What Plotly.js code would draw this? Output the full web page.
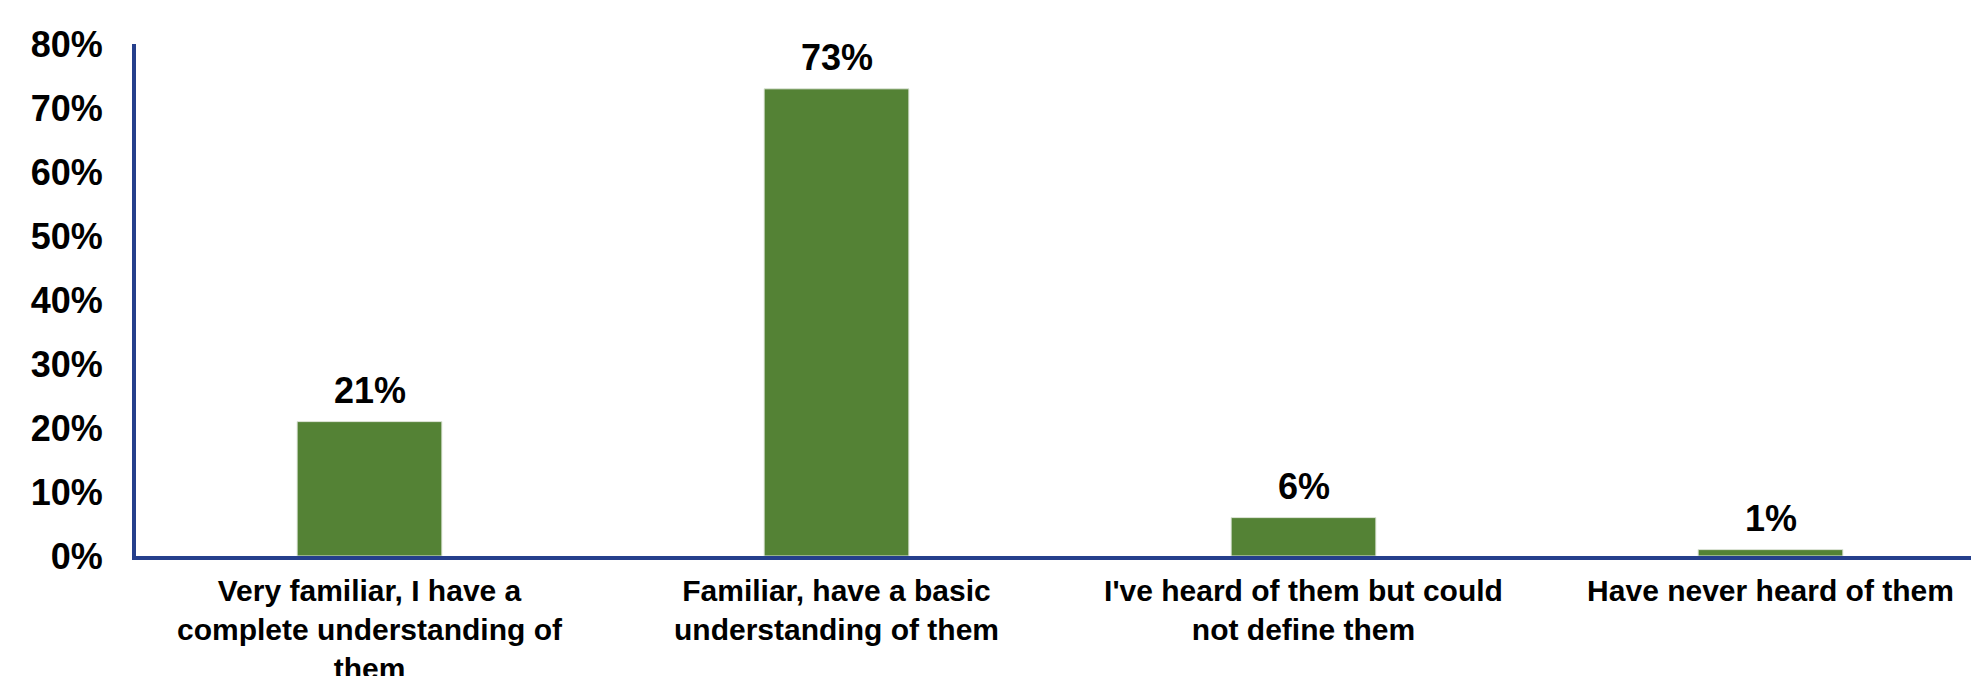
<!DOCTYPE html>
<html>
<head>
<meta charset="utf-8">
<script src="https://cdn.plot.ly/plotly-3.0.1.min.js"></script>
<style>
  html, body { margin: 0; padding: 0; overflow: hidden; background: #ffffff; }
  #chart { width: 2004px; height: 676px; }
</style>
</head>
<body>
<div id="chart"></div>
<script>
const categories = [
  "Very familiar, I have a<br>complete understanding of<br>them",
  "Familiar, have a basic<br>understanding of them",
  "I've heard of them but could<br>not define them",
  "Have never heard of them"
];
const values = [21, 73, 6, 1];
const valueLabels = ["21%", "73%", "6%", "1%"];
const yTickValues = [0, 10, 20, 30, 40, 50, 60, 70, 80];
const yTickLabels = ["0%", "10%", "20%", "30%", "40%", "50%", "60%", "70%", "80%"];

const FONT = "Liberation Sans, Arial, sans-serif";

const trace = {
  type: "bar",
  x: categories,
  y: values,
  marker: { color: "#548235", line: { color: "#dfe6da", width: 1 } },
  hoverinfo: "skip",
  cliponaxis: false
};

const annotations = categories.map((c, i) => ({
  x: c, y: values[i], xref: "x", yref: "y",
  text: valueLabels[i], showarrow: false,
  yanchor: "bottom", yshift: 9,
  font: { family: FONT, size: 36, color: "#000000", weight: "bold" }
}));

const layout = {
  width: 2004,
  height: 676,
  margin: { l: 136, r: 0, t: 44, b: 120, pad: 0 },
  paper_bgcolor: "#ffffff",
  plot_bgcolor: "#ffffff",
  bargap: 0.69,
  showlegend: false,
  xaxis: {
    type: "category",
    range: [-0.5, 3.5],
    showline: true,
    linecolor: "#253F8C",
    linewidth: 4,
    ticks: "",
    showgrid: false,
    zeroline: false,
    tickangle: 0,
    ticklabelstandoff: 5,
    automargin: false,
    tickfont: { family: FONT, size: 30, color: "#000000", weight: "bold" }
  },
  yaxis: {
    range: [0, 80],
    tickvals: yTickValues,
    ticktext: yTickLabels,
    showline: true,
    linecolor: "#253F8C",
    linewidth: 4,
    ticks: "",
    showgrid: false,
    zeroline: false,
    ticklabelstandoff: 22,
    automargin: false,
    tickfont: { family: FONT, size: 36, color: "#000000", weight: "bold" }
  },
  annotations: annotations
};

Plotly.newPlot("chart", [trace], layout, { displayModeBar: false, staticPlot: true });
</script>
</body>
</html>
